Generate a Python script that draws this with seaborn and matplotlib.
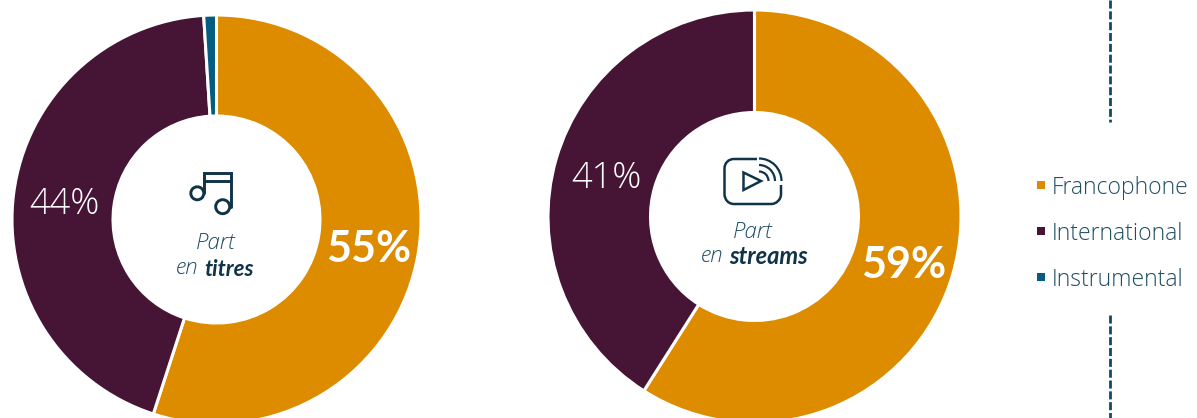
import matplotlib
matplotlib.use('Agg')
import matplotlib.pyplot as plt
import seaborn as sns
from matplotlib.patches import Circle, Polygon, Arc, PathPatch
from matplotlib.path import Path

# data
categories = ['Francophone', 'International', 'Instrumental']
part_titres = [55, 44, 1]
part_streams = [59, 41, 0]
label_titres = ['55%', '44%']
label_streams = ['59%', '41%']
colors = ['#DD8C00', '#461535', '#045C80']

TEXT_COL = '#1F4E63'
DARK_COL = '#0F3347'
W, H = 1197, 418
THIN = ['Open Sans', 'DejaVu Sans']

sns.set_theme(style='white')
plt.rcParams['font.family'] = ['Lato', 'DejaVu Sans']
palette = sns.color_palette(colors)


def add_donut(fig, values, cx, cy, r, r_in):
    # axes placed in pixels, may run past the bottom of the figure
    ax = fig.add_axes([(cx - r) / W, 1 - (cy + r) / H, 2 * r / W, 2 * r / H])
    ax.pie(values, colors=palette, startangle=90, counterclock=False, radius=1,
           wedgeprops={'width': 1 - r_in / r, 'edgecolor': 'white', 'linewidth': 2.2})
    ax.set_xlim(-1, 1)
    ax.set_ylim(-1, 1)
    ax.axis('off')
    return ax


fig = plt.figure(figsize=(W / 100, H / 100), dpi=100, facecolor='white')
add_donut(fig, part_titres, 216.5, 219.5, 204.5, 103.5)
add_donut(fig, part_streams, 754.5, 216.5, 206.5, 104)

# overlay in pixel coordinates for texts and icons
ov = fig.add_axes([0, 0, 1, 1], facecolor='none')
ov.set_xlim(0, W)
ov.set_ylim(H, 0)
ov.axis('off')

# percent labels
ov.text(369, 249, label_titres[0], color='white', fontsize=31, fontweight='bold', ha='center', va='center')
ov.text(64, 205, label_titres[1], family=THIN, color='white', fontsize=26, fontweight='light', ha='center', va='center')
ov.text(904, 265, label_streams[0], color='white', fontsize=31, fontweight='bold', ha='center', va='center')
ov.text(606, 179, label_streams[1], family=THIN, color='white', fontsize=26, fontweight='light', ha='center', va='center')

# centre captions
cap = dict(family=THIN, color=TEXT_COL, fontsize=16, style='italic', va='center', fontweight='light')
ov.text(216, 243, 'Part', ha='center', **cap)
ov.text(198, 268, 'en', ha='right', **cap)
ov.text(204, 269, 'titres', color=DARK_COL, fontsize=16, style='italic', va='center', ha='left', fontweight='bold')
ov.text(753, 232, 'Part', ha='center', **cap)
ov.text(723, 256, 'en', ha='right', **cap)
ov.text(729, 257, 'streams', color=DARK_COL, fontsize=17, style='italic', va='center', ha='left', fontweight='bold')

# music note icon
lw = 2.1
ov.plot([203.5, 203.5, 231, 231], [193, 172.5, 172.5, 207], color=DARK_COL, lw=lw, solid_joinstyle='miter')
ov.plot([203.5, 231], [180.5, 180.5], color=DARK_COL, lw=lw)
ov.add_patch(Circle((197.3, 193.3), 6.5, fc='white', ec=DARK_COL, lw=lw))
ov.add_patch(Circle((222.7, 206.7), 7, fc='white', ec=DARK_COL, lw=lw))

# stream icon
k = 0.5523 * 10
verts = [(757, 159), (734, 159), (734 - k, 159), (724.5, 168.5 - k), (724.5, 168.5),
         (724.5, 194), (724.5, 194 + k), (734 - k, 204), (734, 204), (771, 204),
         (771 + k, 204), (781, 194 + k), (781, 194), (781, 185)]
codes = [Path.MOVETO, Path.LINETO, Path.CURVE4, Path.CURVE4, Path.CURVE4,
         Path.LINETO, Path.CURVE4, Path.CURVE4, Path.CURVE4, Path.LINETO,
         Path.CURVE4, Path.CURVE4, Path.CURVE4, Path.LINETO]
ov.add_patch(PathPatch(Path(verts, codes), fc='none', ec=DARK_COL, lw=lw - 0.3))
ov.add_patch(Polygon([(743.5, 172.5), (743.5, 190), (761, 181)], closed=True, fc='none', ec=DARK_COL, lw=lw - 0.3))
for rad in [9.5, 16, 22.5]:
    # y axis is flipped so the arc goes from -90 to 0 on screen top right
    ov.add_patch(Arc((759, 181), 2 * rad, 2 * rad, theta1=270, theta2=360, color=DARK_COL, lw=lw - 0.5))

# legend
for name, col, y in zip(categories, palette, [185, 231, 277]):
    ov.scatter([1041], [y], marker='s', s=36, color=[col], linewidths=0)
    ov.text(1052, y + 2.5, name, family=THIN, color=TEXT_COL, fontsize=16.5, fontweight='light', ha='left', va='center')

# dashed separators
for y0, y1 in [(0, 122), (315, 418)]:
    ov.plot([1109.5, 1109.5], [y0, y1], color='#134A63', lw=2, dashes=(2.9, 1.0), dash_capstyle='butt')

fig.savefig('out.png', dpi=100)
